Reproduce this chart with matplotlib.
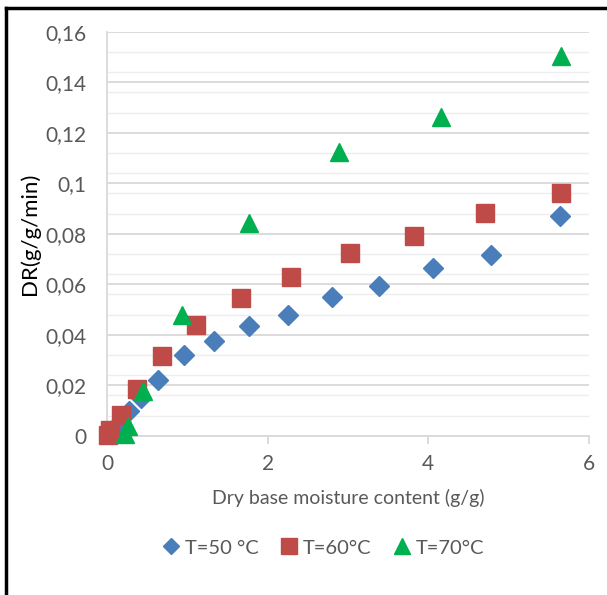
# Drying rate vs dry base moisture content at three temperatures
import numpy as np
import matplotlib.pyplot as plt
from matplotlib.ticker import FuncFormatter, MultipleLocator
from matplotlib.lines import Line2D

plt.rcParams['font.family'] = ['Lato', 'DejaVu Sans']

# %%
# Data
x50 = [5.64, 4.78, 4.06, 3.39, 2.80, 2.25, 1.77, 1.33, 0.96, 0.635, 0.42, 0.27, 0.15, 0.08, 0.02]
y50 = [0.0870, 0.0714, 0.0663, 0.0593, 0.0549, 0.0477, 0.0435, 0.0375, 0.0319, 0.0221, 0.0150, 0.0098, 0.0050, 0.0020, 0.0005]

x60 = [5.65, 4.71, 3.82, 3.02, 2.29, 1.67, 1.11, 0.685, 0.37, 0.175, 0.04, 0.01]
y60 = [0.0961, 0.0881, 0.0791, 0.0723, 0.0627, 0.0545, 0.0438, 0.0316, 0.0185, 0.0082, 0.0023, 0.0003]

x70 = [5.65, 4.16, 2.89, 1.77, 0.93, 0.45, 0.26, 0.22]
y70 = [0.1503, 0.1262, 0.1123, 0.0842, 0.0477, 0.0176, 0.0038, 0.0007]

labels = ['T=50 °C', 'T=60°C', 'T=70°C']

# %%
fig = plt.figure(figsize=(6.07, 5.95), dpi=100)
ax = fig.add_axes([0.1763, 0.2677, 0.794, 0.679])

grey = '#595959'
ax.plot(x50, y50, ls='none', marker='D', ms=10, color='#4A7EBB', mec='#4A7EBB', zorder=3, clip_on=False)
ax.plot(x60, y60, ls='none', marker='s', ms=13, color='#BE4B48', mec='#BE4B48', zorder=3, clip_on=False)
ax.plot(x70, y70, ls='none', marker='^', ms=13, color='#00B050', mec='#00B050', zorder=4, clip_on=False)

ax.set_xlim(0, 6)
ax.set_ylim(0, 0.16)
ax.xaxis.set_major_locator(MultipleLocator(2))
ax.yaxis.set_major_locator(MultipleLocator(0.02))
ax.yaxis.set_minor_locator(MultipleLocator(0.008))
ax.yaxis.set_major_formatter(FuncFormatter(lambda v, p: ('%g' % round(v, 3)).replace('.', ',')))

ax.grid(axis='y', which='major', color='#D9D9D9', lw=1.3)
ax.grid(axis='y', which='minor', color='#EDEDED', lw=1.0)
ax.set_axisbelow(True)

for s in ['top', 'right']:
    ax.spines[s].set_visible(False)
for s in ['left', 'bottom']:
    ax.spines[s].set_color('#D9D9D9')
    ax.spines[s].set_linewidth(1.3)

ax.tick_params(axis='x', which='major', length=6, color='#D9D9D9', width=1.3,
               labelsize=15, labelcolor=grey, pad=7)
ax.tick_params(axis='y', which='both', length=0, labelsize=15, labelcolor=grey, pad=15)

ax.set_xlabel('Dry base moisture content (g/g)', fontsize=14, color=grey, labelpad=11)
ax.set_ylabel('DR(g/g/min)', fontsize=16, color='black', labelpad=4)

handles = [
    Line2D([], [], ls='none', marker='D', ms=8, color='#4A7EBB'),
    Line2D([], [], ls='none', marker='s', ms=11, color='#BE4B48'),
    Line2D([], [], ls='none', marker='^', ms=11, color='#00B050'),
]
fig.legend(handles, labels, loc='center', bbox_to_anchor=(0.53, 0.079), ncol=3, frameon=False,
           fontsize=14.5, labelcolor=grey, handletextpad=0.1, columnspacing=0.9, handlelength=1.2)

# black frame on left and top edges, like the cropped screenshot
fig.add_artist(Line2D([0.0099, 0.0099], [0, 0.9866], color='black', lw=2.5, transform=fig.transFigure))
fig.add_artist(Line2D([0.0099, 1.0], [0.9866, 0.9866], color='black', lw=2.5, transform=fig.transFigure))

fig.savefig('out.png', dpi=100)
